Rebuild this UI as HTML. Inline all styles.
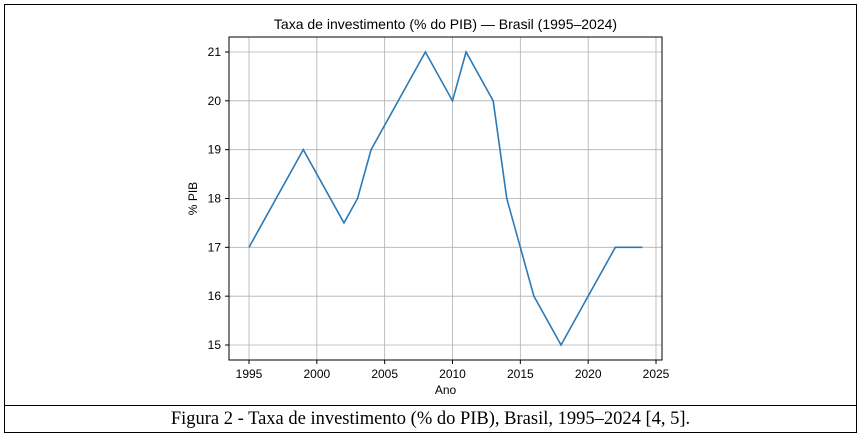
<!DOCTYPE html>
<html><head><meta charset="utf-8"><style>
body{margin:0;background:#fff;width:864px;height:440px;overflow:hidden}
#frame{position:absolute;left:4px;top:4px;width:853px;height:429px;border:1px solid #000;box-sizing:border-box}
#cap{position:absolute;left:4px;top:405px;width:853px;height:28px;border-top:1px solid #000;box-sizing:border-box;text-align:center;font:18.5px "Liberation Serif",serif;line-height:26px}
svg{position:absolute;left:0;top:0}
</style></head><body>
<div id="frame"></div>
<div id="cap">Figura 2 - Taxa de investimento (% do PIB), Brasil, 1995–2024 [4, 5].</div>
<svg id="c" width="864" height="440" font-family="Liberation Sans, sans-serif"></svg>
<script>
const years=[1995,1999,2002,2003,2004,2008,2010,2011,2013,2014,2015,2016,2018,2020,2022,2024];
const values=[17,19,17.5,18,19,21,20,21,20,18,17,16,15,16,17,17];
const xTicks=[1995,2000,2005,2010,2015,2020,2025];
const yTicks=[15,16,17,18,19,20,21];
const L=229,R=662,T=37,B=360;
const x=v=>249+(v-1995)*(656-249)/30;
const y=v=>345-(v-15)*(345-52)/6;
const s=document.getElementById('c');const NS='http://www.w3.org/2000/svg';
function mk(t,a,txt){const e=document.createElementNS(NS,t);for(const k in a)e.setAttribute(k,a[k]);if(txt!=null)e.textContent=txt;s.appendChild(e);return e;}
xTicks.forEach(v=>{const g=mk('line',{x1:x(v),x2:x(v),y1:T,y2:B,stroke:'#b0b0b0','stroke-width':0.8});


mk('line',{x1:x(v),x2:x(v),y1:B,y2:B+4,stroke:'#000'});
const t=mk('text',{x:x(v),y:B+18,'text-anchor':'middle','font-size':12},v);

});
yTicks.forEach(v=>{const g=mk('line',{x1:L,x2:R,y1:y(v),y2:y(v),stroke:'#b0b0b0','stroke-width':0.8});


mk('line',{x1:L-4,x2:L,y1:y(v),y2:y(v),stroke:'#000'});
const t=mk('text',{x:L-8,y:y(v)+4,'text-anchor':'end','font-size':12},v);

});
const ax=mk('rect',{x:L,y:T,width:R-L,height:B-T,fill:'none',stroke:'#000','stroke-width':1});


const p=mk('polyline',{points:years.map((yr,i)=>x(yr)+','+y(values[i])).join(' '),fill:'none',stroke:'#2a7ab8','stroke-width':1.6});


const ti=mk('text',{x:(L+R)/2,y:29,'text-anchor':'middle','font-size':14},'Taxa de investimento (% do PIB) — Brasil (1995–2024)');


const xl=mk('text',{x:(L+R)/2,y:394,'text-anchor':'middle','font-size':12},'Ano');


const yl=mk('text',{x:197,y:(T+B)/2,'text-anchor':'middle','font-size':12,transform:'rotate(-90 197 '+((T+B)/2)+')'},'% PIB');


</script>
</body></html>
